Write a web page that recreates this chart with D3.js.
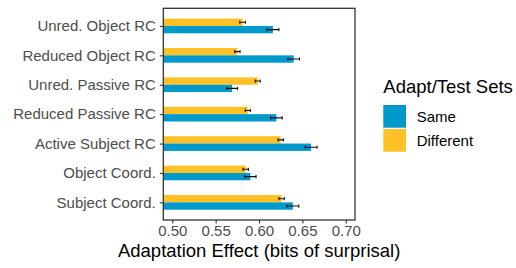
<!DOCTYPE html>
<html>
<head>
<meta charset="utf-8">
<script src="https://cdn.jsdelivr.net/npm/d3@7"></script>
<style>
  html, body { margin: 0; padding: 0; background: #fff; }
  svg { display: block; font-family: "Liberation Sans", Arial, sans-serif; }
</style>
</head>
<body>
<svg id="chart" width="516" height="268"></svg>
<script>
const categories = ["Unred. Object RC", "Reduced Object RC", "Unred. Passive RC", "Reduced Passive RC", "Active Subject RC", "Object Coord.", "Subject Coord."];
const seriesNames = ["Same", "Different"];
const sameValues = [0.616, 0.640, 0.569, 0.620, 0.660, 0.590, 0.639];
const sameErr = [0.0069, 0.0067, 0.0063, 0.0067, 0.0069, 0.0066, 0.0069];
const differentValues = [0.581, 0.575, 0.5985, 0.587, 0.625, 0.5846, 0.626];
const differentErr = [0.0032, 0.0031, 0.0029, 0.0029, 0.0031, 0.0031, 0.0031];
const xTicks = [0.50, 0.55, 0.60, 0.65, 0.70];
const xTitle = "Adaptation Effect (bits of surprisal)";
const legendTitle = "Adapt/Test Sets";

const colors = { "Same": "#0099CC", "Different": "#FFC125" };

const svg = d3.select("#chart");
const panel = { left: 163.3, right: 355, top: 8.3, bottom: 220 };

const x = d3.scaleLinear().domain([0.4896, 0.7107]).range([panel.left, panel.right]);
const y = d3.scalePoint().domain(categories).range([panel.top, panel.bottom]).padding(0.6);
const step = y.step();
const barH = step * 0.25;

const rows = categories.map((c, i) => ({
  cat: c,
  series: [
    { name: "Different", value: differentValues[i], err: differentErr[i], offset: -barH },
    { name: "Same", value: sameValues[i], err: sameErr[i], offset: 0 }
  ]
}));

svg.append("defs").append("clipPath").attr("id", "clip")
  .append("rect").attr("x", panel.left).attr("y", panel.top)
  .attr("width", panel.right - panel.left).attr("height", panel.bottom - panel.top);

const g = svg.append("g").attr("clip-path", "url(#clip)");

rows.forEach(r => {
  r.series.forEach(s => {
    g.append("rect")
      .attr("x", panel.left - 2)
      .attr("y", y(r.cat) + s.offset)
      .attr("width", x(s.value) - panel.left + 2)
      .attr("height", barH)
      .attr("fill", colors[s.name]);
  });
});

rows.forEach(r => {
  r.series.forEach(s => {
    const cy = y(r.cat) + s.offset + barH / 2;
    const x0 = x(s.value - s.err), x1 = x(s.value + s.err);
    const eg = g.append("g").attr("stroke", "#111").attr("stroke-width", 1.1);
    eg.append("line").attr("x1", x0).attr("x2", x1).attr("y1", cy).attr("y2", cy);
    eg.append("line").attr("x1", x0).attr("x2", x0).attr("y1", cy - 1.6).attr("y2", cy + 1.6);
    eg.append("line").attr("x1", x1).attr("x2", x1).attr("y1", cy - 1.6).attr("y2", cy + 1.6);
  });
});

// panel border
svg.append("rect")
  .attr("x", panel.left).attr("y", panel.top)
  .attr("width", panel.right - panel.left).attr("height", panel.bottom - panel.top)
  .attr("fill", "none").attr("stroke", "#333").attr("stroke-width", 1.3);

// x axis
const xAxis = svg.append("g").attr("transform", `translate(0,${panel.bottom})`)
  .call(d3.axisBottom(x).tickValues(xTicks).tickFormat(d3.format(".2f")).tickSize(3.5).tickPadding(2));
xAxis.select(".domain").remove();
xAxis.selectAll(".tick line").attr("stroke", "#333").attr("stroke-width", 1.1);
xAxis.selectAll(".tick text").attr("fill", "#4D4D4D").style("font-size", "15px")
  .attr("font-family", "Liberation Sans, Arial, sans-serif");

// y axis
const yAxis = svg.append("g").attr("transform", `translate(${panel.left},0)`)
  .call(d3.axisLeft(y).tickSize(3.5).tickPadding(4));
yAxis.select(".domain").remove();
yAxis.selectAll(".tick line").attr("stroke", "#333").attr("stroke-width", 1.1);
yAxis.selectAll(".tick text").attr("fill", "#4D4D4D").style("font-size", "15px")
  .attr("font-family", "Liberation Sans, Arial, sans-serif");

// x title
svg.append("text")
  .attr("x", (panel.left + panel.right) / 2).attr("y", 257)
  .attr("text-anchor", "middle").attr("fill", "#000")
  .style("font-size", "18.5px").text(xTitle);

// legend
const lg = svg.append("g");
lg.append("text").attr("x", 383.3).attr("y", 92.5).style("font-size", "18.5px").attr("fill", "#000").text(legendTitle);
seriesNames.forEach((n, i) => {
  const ky = 105 + i * 24;
  lg.append("rect").attr("x", 383.3).attr("y", ky).attr("width", 22.7).attr("height", 22.7).attr("fill", colors[n]);
  lg.append("text").attr("x", 416.7).attr("y", ky + 11.35 + 5.3).style("font-size", "15px").attr("fill", "#000").text(n);
});
</script>
</body>
</html>
